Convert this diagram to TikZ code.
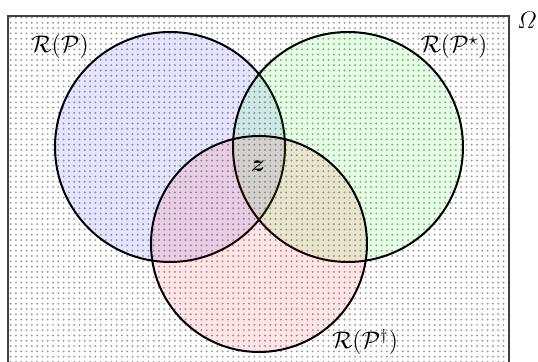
\documentclass[tikz,border=0pt]{standalone}
\usepackage{amsmath}
\usetikzlibrary{patterns.meta}
\begin{document}
\begin{tikzpicture}[x=0.5pt,y=-0.5pt]
  \useasboundingbox (0,0) rectangle (538,362);

  % the universe
  \fill[pattern={Dots[distance=2.65pt,radius=0.55pt]}, pattern color=gray!75] (8,16) rectangle (509,362);
  \draw[gray!50!black, line width=0.75pt] (8,362) -- (8,16) -- (509,16) -- (509,362);
  \node[font=\large] (omega) at (527,20) {$\varOmega$};

  \begin{scope}[every node/.style={circle,draw,line width=1pt,inner sep=0pt,fill opacity=0.1}]
    \node[fill=blue,  minimum size=115pt] (P)     at (170,147) {};
    \node[fill=green, minimum size=115pt] (Pstar) at (348,147) {};
    \node[fill=red,   minimum size=108pt] (Pdag)  at (259,244) {};
  \end{scope}

  \begin{scope}[every node/.style={inner sep=1pt,font=\large}]
    \node (lP)     at (60,47)  {$\mathcal{R}(\mathcal{P})$};
    \node (lPstar) at (454,47) {$\mathcal{R}(\mathcal{P}^{\star})$};
    \node (lPdag)  at (365,342) {$\mathcal{R}(\mathcal{P}^{\dagger})$};
    \node (z)      at (258,166) {$\boldsymbol{z}$};
  \end{scope}

\end{tikzpicture}
\end{document}
